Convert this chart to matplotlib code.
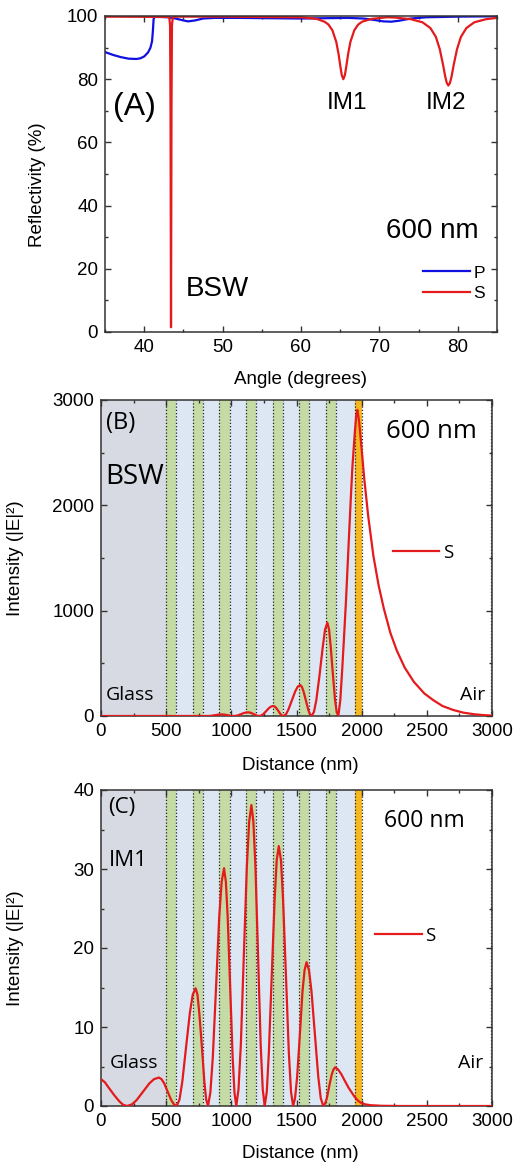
import matplotlib
matplotlib.use('Agg')
import matplotlib.pyplot as plt
from matplotlib.ticker import MultipleLocator

plt.rcParams['font.family'] = ['Liberation Sans', 'DejaVu Sans']

# (A) reflectivity vs angle at 600 nm
angle_p = [35, 36, 37, 38, 39, 39.5, 40, 40.5, 40.8, 41.0, 41.1, 41.2, 41.3, 42, 43,
           44, 45, 45.6, 46.5, 47.5, 49, 52, 56, 60, 63, 66, 68, 69.5, 70.5, 71.5,
           72.5, 74, 76, 80, 85]
refl_p = [88.6, 87.7, 87.0, 86.5, 86.4, 86.6, 87.2, 88.5, 90.0, 92.0, 95.0, 99.0, 99.7, 99.7, 99.6,
          99.2, 98.6, 98.3, 98.6, 99.2, 99.4, 99.4, 99.3, 99.2, 99.3, 99.4, 99.2, 98.7, 98.3, 98.2,
          98.5, 99.2, 99.6, 99.8, 99.9]

angle_s = [35, 43.2, 43.3, 43.36, 43.40, 43.42, 43.44, 43.48, 43.54, 43.65,
           44, 50, 60, 62, 63, 63.5, 64, 64.5, 64.8, 65.0,
           65.2, 65.4, 65.6, 65.8, 66.0, 66.3, 66.8, 67.3, 67.8, 69,
           71, 72, 74, 75.5, 76.5, 77.2, 77.7, 78.1, 78.4, 78.6,
           78.8, 79.0, 79.2, 79.5, 79.9, 80.4, 81.1, 82.1, 83.6, 85]
refl_s = [99.8, 99.7, 97, 70, 20, 1.5, 20, 70, 97, 99.6,
          99.8, 99.8, 99.6, 99.1, 98.2, 97.3, 95.5, 91.8, 87.8, 84.4,
          81.3, 80.0, 81.3, 84.4, 87.8, 91.8, 95.5, 97.3, 98.2, 99.1,
          99.6, 99.5, 99.0, 98.0, 96.2, 93.4, 89.5, 84.8, 80.8, 78.8,
          78.0, 78.8, 80.8, 84.8, 89.5, 93.4, 96.2, 98.0, 99.0, 99.4]

# (B) field intensity for the BSW
dist_b = [0, 500, 820, 835, 851, 872, 892, 908, 923, 938, 952, 972, 991, 1005, 1020,
          1036, 1052, 1074, 1096, 1112, 1128, 1141, 1154, 1172, 1189, 1202, 1215,
          1231, 1247, 1268, 1289, 1305, 1321, 1333, 1345, 1361, 1376, 1388, 1400,
          1419, 1438, 1464, 1490, 1509, 1528, 1541, 1554, 1572, 1590, 1603, 1616,
          1634, 1652, 1676, 1701, 1719, 1737, 1750, 1763, 1779, 1795, 1808, 1821,
          1836, 1852, 1866, 1880, 1898, 1916, 1929, 1947, 1958, 1967, 1980, 1995,
          2020, 2050, 2090, 2130, 2170, 2220, 2270, 2330, 2400, 2480, 2550, 2620,
          2700, 2780, 2860, 2930, 3000]
int_b = [0, 0, 0, 0.8, 3.1, 7.5, 11.9, 14.2, 15, 14.2, 11.9, 7.5, 3.1, 0.8, 0,
         1.9, 7.2, 17.5, 27.8, 33.1, 35, 33.1, 27.8, 17.5, 7.2, 1.9, 0,
         5.2, 19.6, 47.5, 75.4, 89.8, 95, 89.8, 75.4, 47.5, 19.6, 5.2, 0,
         16, 61, 147, 233, 278, 294, 278, 233, 147, 61, 16, 0,
         40, 150, 380, 650, 820, 886, 820, 650, 400, 160, 40, 0,
         150, 468, 780, 1101, 1580, 2051, 2367, 2684, 2850, 2905, 2800, 2600,
         2250, 1900, 1520, 1240, 1020, 790, 620, 460, 325, 215, 150, 95,
         58, 32, 17, 9, 4]

# (C) field intensity for IM1
dist_c = [0, 30, 60, 100, 140, 170, 200, 237, 273, 322, 371, 407, 444, 464, 485, 512, 539, 560, 580,
          602, 624, 653, 682, 704, 726, 740, 754, 774, 793, 807, 821,
          839, 858, 883, 907, 926, 944, 958, 972, 991, 1010, 1024, 1038,
          1055, 1073, 1096, 1119, 1137, 1154, 1169, 1185, 1205, 1225, 1241, 1256,
          1272, 1288, 1310, 1332, 1348, 1364, 1381, 1397, 1419, 1441, 1458, 1474,
          1489, 1505, 1526, 1546, 1562, 1577, 1596, 1615, 1641, 1667, 1686, 1705,
          1719, 1733, 1751, 1769, 1783, 1797,
          1820, 1845, 1867, 1900, 1944, 1970, 1995, 2030, 2072, 2150, 2300, 3000]
int_c = [3.4, 3.0, 2.3, 1.4, 0.6, 0.15, 0, 0.2, 0.74, 1.8, 2.86, 3.4, 3.6, 3.4, 2.86, 1.8, 0.74, 0.2, 0,
         0.8, 3.1, 7.5, 11.8, 14.1, 14.9, 14.1, 11.8, 7.5, 3.1, 0.8, 0,
         1.7, 6.2, 15.1, 23.9, 28.4, 30.1, 28.4, 23.9, 15.1, 6.2, 1.7, 0,
         2.1, 7.8, 19.1, 30.3, 36.0, 38.1, 36.0, 30.3, 19.1, 7.8, 2.1, 0,
         1.8, 6.8, 16.5, 26.1, 31.1, 32.9, 31.1, 26.1, 16.5, 6.8, 1.8, 0,
         1.0, 3.7, 9.1, 14.5, 17.2, 18.2, 17.2, 14.5, 9.1, 3.7, 1.0, 0,
         0.3, 1.0, 2.5, 3.9, 4.6, 4.9,
         4.6, 4.0, 3.3, 2.3, 1.2, 0.7, 0.4, 0.2, 0.1, 0.03, 0.0, 0.0]

# multilayer geometry (nm)
glass_end = 500
hi_starts = [500, 704, 908, 1112, 1316, 1520, 1724]
hi_thick = 78
top_layer = (1950, 2000)
air_end = 3000

RED = '#e41a1c'
BLUE = '#1010e0'
AX_COL = '#333333'


def style_axes(ax, xmaj, xmin, ymaj, ymin):
    ax.xaxis.set_major_locator(MultipleLocator(xmaj))
    ax.xaxis.set_minor_locator(MultipleLocator(xmin))
    ax.yaxis.set_major_locator(MultipleLocator(ymaj))
    ax.yaxis.set_minor_locator(MultipleLocator(ymin))
    ax.tick_params(which='both', direction='in', top=True, right=True,
                   color=AX_COL, width=1.0)
    ax.tick_params(which='major', length=4.5, labelsize=13.5, pad=5)
    ax.tick_params(which='minor', length=2.5)
    for s in ax.spines.values():
        s.set_linewidth(1.1)
        s.set_color(AX_COL)


def draw_stack(ax):
    dot = dict(ls=(0, (1, 1.6)), color='#222222', lw=0.9, zorder=1)
    ax.axvspan(0, glass_end, color='#d7dae3', lw=0, zorder=0)
    ax.axvspan(glass_end, top_layer[0], color='#dde7f3', lw=0, zorder=0)
    for s in hi_starts:
        ax.axvspan(s, s + hi_thick, color='#c5dba6', lw=0, zorder=0.5)
        ax.axvline(s, **dot)
        ax.axvline(s + hi_thick, **dot)
    ax.axvspan(top_layer[0], top_layer[1], color='#f6b820', lw=0, zorder=0.5)
    ax.axvline(top_layer[0], **dot)
    ax.axvline(top_layer[1], **dot)
    ax.axvline(air_end - 8, **dot)


fig = plt.figure(figsize=(5.16, 11.67), dpi=100)
W, H = 516.0, 1167.0

# ---- (A) ----
axA = fig.add_axes([105 / W, 1 - 332 / H, 392 / W, 316 / H])
axA.plot(angle_p, refl_p, color=BLUE, lw=1.6, label='P')
axA.plot(angle_s, refl_s, color=RED, lw=1.6, label='S')
axA.set_xlim(35, 85)
axA.set_ylim(0, 100)
style_axes(axA, 10, 5, 20, 10)
axA.text(0.074, 0.712, '(A)', transform=axA.transAxes, fontsize=23, ha='center', va='center')
axA.text(0.617, 0.725, 'IM1', transform=axA.transAxes, fontsize=17.5, ha='center', va='center')
axA.text(0.870, 0.725, 'IM2', transform=axA.transAxes, fontsize=17.5, ha='center', va='center')
axA.text(0.286, 0.136, 'BSW', transform=axA.transAxes, fontsize=20, ha='center', va='center')
axA.text(0.834, 0.320, '600 nm', transform=axA.transAxes, fontsize=20, ha='center', va='center')
axA.legend(loc='lower right', bbox_to_anchor=(1.0, 0.06), frameon=False, fontsize=12.5,
           handlelength=2.7, handletextpad=0.2, labelspacing=0.3, borderpad=0.2)
fig.text(38 / W, 1 - 185 / H, 'Reflectivity (%)', rotation=90, ha='center', va='center', fontsize=13.5)
fig.text(300 / W, 1 - 380 / H, 'Angle (degrees)', ha='center', va='center', fontsize=13.5)

# ---- (B) ----
axB = fig.add_axes([101 / W, 1 - 716 / H, 391 / W, 316 / H])
draw_stack(axB)
axB.plot(dist_b, int_b, color=RED, lw=1.6, zorder=3, label='S')
axB.set_xlim(0, 3000)
axB.set_ylim(0, 3000)
style_axes(axB, 500, 250, 1000, 500)
ann = dict(family=['Open Sans', 'DejaVu Sans'])
axB.text(0.012, 0.927, '(B)', transform=axB.transAxes, fontsize=17, ha='left', va='center', **ann)
axB.text(0.010, 0.756, 'BSW', transform=axB.transAxes, fontsize=20, ha='left', va='center', **ann)
axB.text(0.012, 0.066, 'Glass', transform=axB.transAxes, fontsize=14, ha='left', va='center', **ann)
axB.text(0.982, 0.066, 'Air', transform=axB.transAxes, fontsize=14, ha='right', va='center', **ann)
axB.text(0.844, 0.899, '600 nm', transform=axB.transAxes, fontsize=18.5, ha='center', va='center', **ann)
axB.legend(loc='center left', bbox_to_anchor=(0.712, 0.516), frameon=False,
           prop={'family': ['Open Sans', 'DejaVu Sans'], 'size': 13.5},
           handlelength=2.5, handletextpad=0.2, borderpad=0.2)
fig.text(16 / W, 1 - 558 / H, 'Intensity (|E|²)', rotation=90, ha='center', va='center', fontsize=13.5)
fig.text(300 / W, 1 - 765 / H, 'Distance (nm)', ha='center', va='center', fontsize=13.5)

# ---- (C) ----
axC = fig.add_axes([101 / W, 1 - 1106 / H, 391 / W, 316 / H])
draw_stack(axC)
axC.plot(dist_c, int_c, color=RED, lw=1.6, zorder=3, label='S')
axC.set_xlim(0, 3000)
axC.set_ylim(0, 40)
style_axes(axC, 500, 250, 10, 5)
axC.text(0.018, 0.946, '(C)', transform=axC.transAxes, fontsize=16, ha='left', va='center', **ann)
axC.text(0.020, 0.778, 'IM1', transform=axC.transAxes, fontsize=16, ha='left', va='center', **ann)
axC.text(0.022, 0.136, 'Glass', transform=axC.transAxes, fontsize=14, ha='left', va='center', **ann)
axC.text(0.977, 0.136, 'Air', transform=axC.transAxes, fontsize=14, ha='right', va='center', **ann)
axC.text(0.826, 0.902, '600 nm', transform=axC.transAxes, fontsize=16.5, ha='center', va='center', **ann)
axC.legend(loc='center left', bbox_to_anchor=(0.667, 0.538), frameon=False,
           prop={'family': ['Open Sans', 'DejaVu Sans'], 'size': 13.5},
           handlelength=2.5, handletextpad=0.2, borderpad=0.2)
fig.text(16 / W, 1 - 948 / H, 'Intensity (|E|²)', rotation=90, ha='center', va='center', fontsize=13.5)
fig.text(300 / W, 1 - 1153 / H, 'Distance (nm)', ha='center', va='center', fontsize=13.5)

fig.savefig('out.png', dpi=100)
